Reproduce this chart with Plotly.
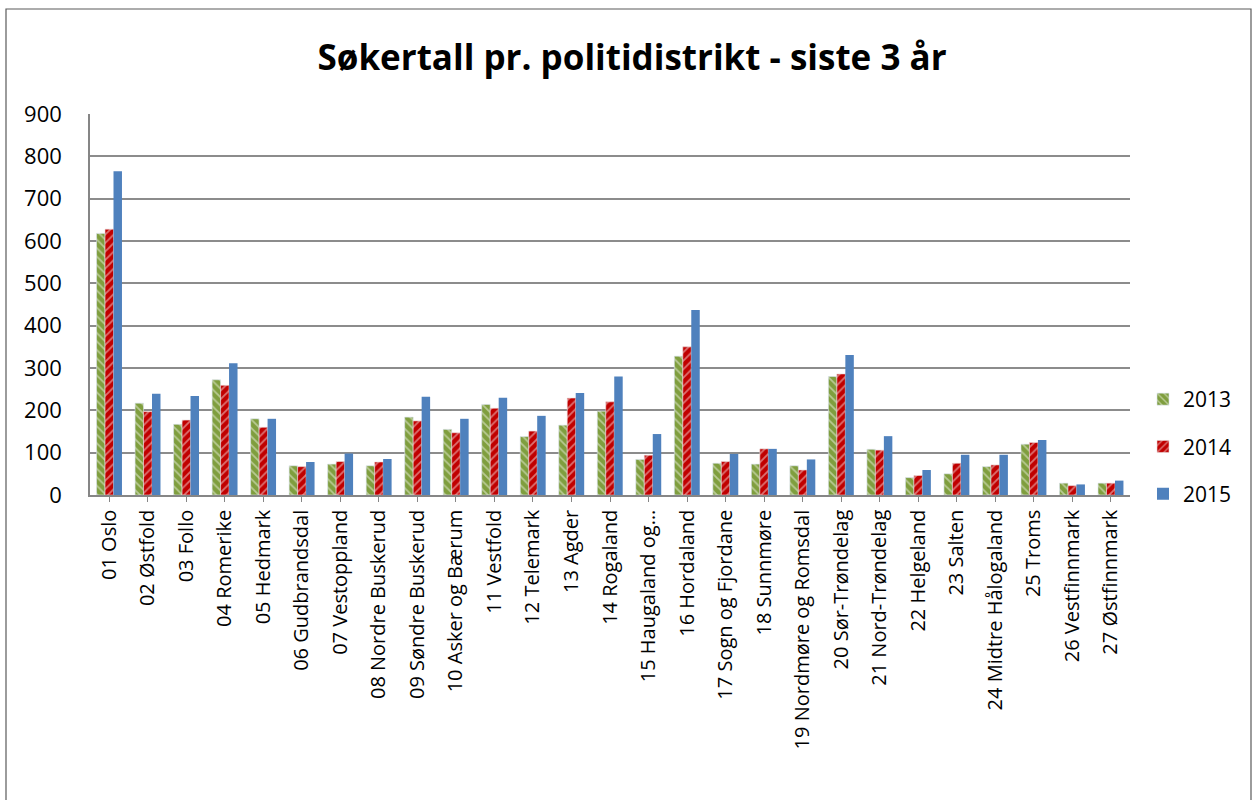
import plotly.graph_objects as go

categories = ["01 Oslo", "02 Østfold", "03 Follo", "04 Romerike", "05 Hedmark",
              "06 Gudbrandsdal", "07 Vestoppland", "08 Nordre Buskerud",
              "09 Søndre Buskerud", "10 Asker og Bærum", "11 Vestfold", "12 Telemark",
              "13 Agder", "14 Rogaland", "15 Haugaland og…", "16 Hordaland",
              "17 Sogn og Fjordane", "18 Sunnmøre", "19 Nordmøre og Romsdal",
              "20 Sør-Trøndelag", "21 Nord-Trøndelag", "22 Helgeland", "23 Salten",
              "24 Midtre Hålogaland", "25 Troms", "26 Vestfinnmark", "27 Østfinnmark"]

v2013 = [618, 217, 167, 272, 180, 69, 73, 69, 184, 155, 214, 138, 165, 198, 84, 328,
         75, 73, 69, 280, 108, 41, 50, 67, 120, 28, 28]
v2014 = [628, 197, 177, 259, 160, 67, 79, 78, 175, 147, 205, 151, 229, 220, 94, 350,
         79, 109, 59, 286, 106, 46, 75, 71, 124, 22, 28]
v2015 = [765, 239, 234, 311, 180, 78, 98, 85, 232, 180, 230, 187, 241, 280, 144, 437,
         97, 109, 84, 331, 139, 59, 95, 95, 130, 25, 34]

y_ticks = [0, 100, 200, 300, 400, 500, 600, 700, 800, 900]
title_text = "Søkertall pr. politidistrikt - siste 3 år"

FONT = "Open Sans, Liberation Sans, sans-serif"

fig = go.Figure()
fig.add_trace(go.Bar(
    name="2013", x=categories, y=v2013, legendgroup="a",
    marker=dict(color="#7F9E3E", line=dict(color="#D6E0EE", width=0.6),
                pattern=dict(shape="\\", fgcolor="#F2F5EA", size=6, solidity=0.3,
                             fillmode="overlay")),
))
fig.add_trace(go.Bar(
    name="2014", x=categories, y=v2014, legendgroup="b",
    marker=dict(color="#C00000", line=dict(color="#E8D6D6", width=0.6),
                pattern=dict(shape="/", fgcolor="#F6E6E6", size=6, solidity=0.3,
                             fillmode="overlay")),
))
fig.add_trace(go.Bar(
    name="2015", x=categories, y=v2015, legendgroup="c",
    marker=dict(color="#4F81BD", line=dict(width=0)),
))

L, R, T, B = 90, 128, 114, 305
W, H = 1258, 800
pw = W - L - R
ph = H - T - B

def px_x(v):
    return (v - L) / pw

def px_y(v):
    return (H - B - v) / ph

fig.update_layout(
    width=W, height=H,
    margin=dict(l=L, r=R, t=T, b=B, autoexpand=False),
    paper_bgcolor="white", plot_bgcolor="white",
    barmode="group", bargap=0.34, bargroupgap=0.0,
    font=dict(family=FONT, size=21, color="black"),
    title=dict(text="<b>" + title_text + "</b>", x=632 / W, xanchor="center",
               xref="container", y=1 - 58 / H, yanchor="middle",
               font=dict(family=FONT, size=35, color="black")),
    showlegend=True,
    legend=dict(x=px_x(1143), xanchor="left", y=px_y(379), yanchor="top",
                font=dict(family=FONT, size=21), tracegroupgap=17,
                bgcolor="rgba(0,0,0,0)", itemwidth=30),
    xaxis=dict(tickangle=-90, tickfont=dict(family=FONT, size=20),
               showline=True, linecolor="#868686", linewidth=1.5,
               ticks="outside", ticklen=5, tickcolor="#868686",
               showgrid=False),
    yaxis=dict(range=[0, 900], tickvals=y_ticks, tickfont=dict(family=FONT, size=22),
               showgrid=True, gridcolor="#8C8C8C", gridwidth=1.5,
               showline=True, linecolor="#868686", linewidth=1.5,
               ticks="", zeroline=False, ticklabelstandoff=22),
    shapes=[dict(type="rect", xref="paper", yref="paper",
                 x0=px_x(6), x1=px_x(1251), y0=px_y(812), y1=px_y(9),
                 line=dict(color="#5A5A5A", width=1.2), fillcolor="rgba(0,0,0,0)",
                 layer="below")],
)

fig.write_html("out.html", config={"displayModeBar": False},
               post_script="document.body.style.margin='0px';")
